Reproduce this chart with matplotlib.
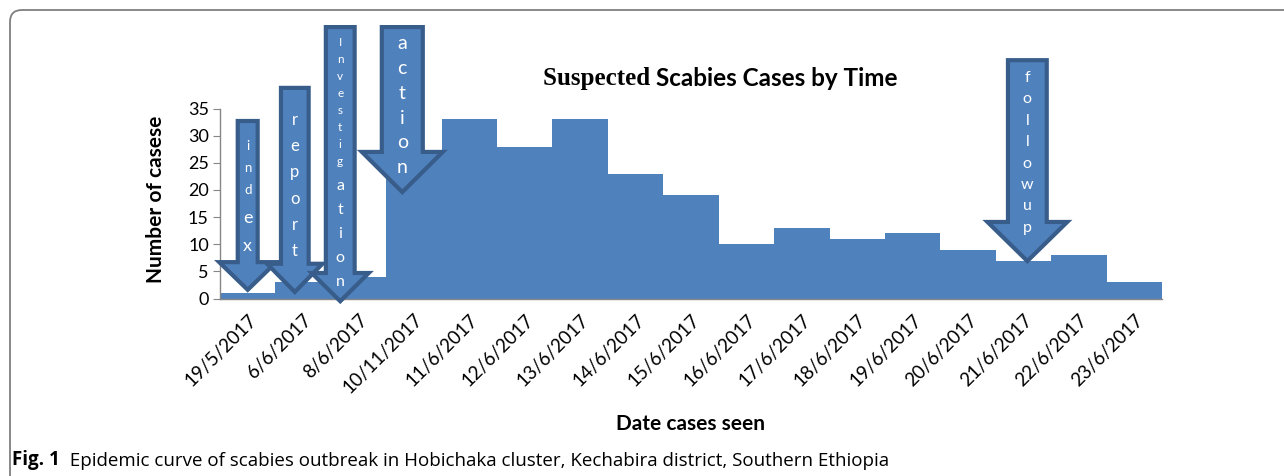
import matplotlib
matplotlib.use('Agg')
import matplotlib.pyplot as plt
from matplotlib.patches import Polygon, FancyBboxPatch

dates = ['19/5/2017', '6/6/2017', '8/6/2017', '10/11/2017', '11/6/2017', '12/6/2017',
         '13/6/2017', '14/6/2017', '15/6/2017', '16/6/2017', '17/6/2017', '18/6/2017',
         '19/6/2017', '20/6/2017', '21/6/2017', '22/6/2017', '23/6/2017']
cases = [1, 3, 4, 27, 33, 28, 33, 23, 19, 10, 13, 11, 12, 9, 7, 8, 3]

# milestone arrows: x centre, top, head start, tip (data units), shaft / head widths
arrow_x = [0.0, 0.85, 1.67, 2.79, 14.07]
arrow_top = [32.7, 38.8, 50.0, 50.0, 43.9]
arrow_head = [6.7, 6.4, 4.7, 27.0, 14.1]
arrow_tip = [1.6, 1.2, -0.5, 19.6, 6.9]
arrow_shaft = [0.36, 0.5, 0.52, 0.74, 0.70]
arrow_headw = [1.03, 1.0, 1.03, 1.46, 1.44]
# letters written down each arrow: (letters, fontsize, step)
arrow_text = [
    [('ind', 9.5, 4.05), ('ex', 13, 5.16)],
    [('report', 12, 4.84)],
    [('Investig', 8.5, 3.15), ('ation', 11.5, 4.42)],
    [('action', 14, 4.6)],
    [('followup', 11.5, 3.94)],
]
text_start = [28.1, 32.9, 47.2, 47.05, 40.6]

blue = '#4F81BD'
dark = '#385D8A'
font = 'Lato'

fig = plt.figure(figsize=(12.84, 4.76), dpi=100)
ax = fig.add_axes([220 / 1284, 177.5 / 476, 942 / 1284, 190 / 476])

ax.bar(range(len(cases)), cases, width=1.0, color=blue, linewidth=0, zorder=2)
ax.set_xlim(-0.5, len(cases) - 0.5)
ax.set_ylim(0, 35)
ax.set_yticks(range(0, 36, 5))
ax.set_yticklabels([str(v) for v in range(0, 36, 5)], fontsize=13, family=font)
ax.set_xticks(range(len(cases)))
ax.set_xticklabels(dates, rotation=45, ha='right', va='top', rotation_mode='anchor',
                   fontsize=13.5, family=font)
ax.tick_params(axis='x', length=0, pad=9)
ax.tick_params(axis='y', length=5, color='#868686', pad=3)
for s in ['top', 'right']:
    ax.spines[s].set_visible(False)
for s in ['left', 'bottom']:
    ax.spines[s].set_color('#868686')
    ax.spines[s].set_linewidth(1.0)

for i in range(len(arrow_x)):
    cx, sw, hw = arrow_x[i], arrow_shaft[i] / 2, arrow_headw[i] / 2
    pts = [(cx - sw, arrow_top[i]), (cx + sw, arrow_top[i]), (cx + sw, arrow_head[i]),
           (cx + hw, arrow_head[i]), (cx, arrow_tip[i]), (cx - hw, arrow_head[i]),
           (cx - sw, arrow_head[i])]
    ax.add_patch(Polygon(pts, closed=True, facecolor=blue, edgecolor=dark, linewidth=3,
                         joinstyle='miter', clip_on=False, zorder=5))
    y = text_start[i]
    first = True
    for letters, size, step in arrow_text[i]:
        for ch in letters:
            if not first:
                y -= step
            first = False
            ax.text(cx, y, ch, ha='center', va='center', fontsize=size, color='white',
                    family=font, zorder=6, clip_on=False)

# title: first word in a serif face, rest in sans
t1 = fig.text(543 / 1284, 1 - 85 / 476, 'Suspected ', fontsize=18, fontweight='bold',
              family='Liberation Serif', va='baseline')
ax.annotate('Scabies Cases by Time', xy=(1, 0), xycoords=t1, va='bottom', ha='left',
            fontsize=17.5, fontweight='bold', family=font)

fig.text(156 / 1284, 1 - 199 / 476, 'Number of casese', rotation=90, ha='center', va='center',
         fontsize=15, fontweight='bold', family=font)
fig.text(691 / 1284, 1 - 424 / 476, 'Date cases seen', ha='center', va='center',
         fontsize=15, fontweight='bold', family=font)

cap = fig.text(12 / 1284, 1 - 465 / 476, 'Fig. 1', fontsize=13.5, fontweight='bold',
               family='Open Sans', va='baseline')
ax.annotate('  Epidemic curve of scabies outbreak in Hobichaka cluster, Kechabira district, Southern Ethiopia',
            xy=(1, 0), xycoords=cap, va='bottom', ha='left', fontsize=13.5, family='Open Sans')

frame = FancyBboxPatch((0.10, -1.0), 14.0, 5.66, boxstyle='round,pad=0,rounding_size=0.12',
                       transform=fig.dpi_scale_trans, facecolor='none', edgecolor='#7f7f7f',
                       linewidth=1.3, clip_on=False)
fig.patches.append(frame)

fig.savefig('out.png', dpi=100)
